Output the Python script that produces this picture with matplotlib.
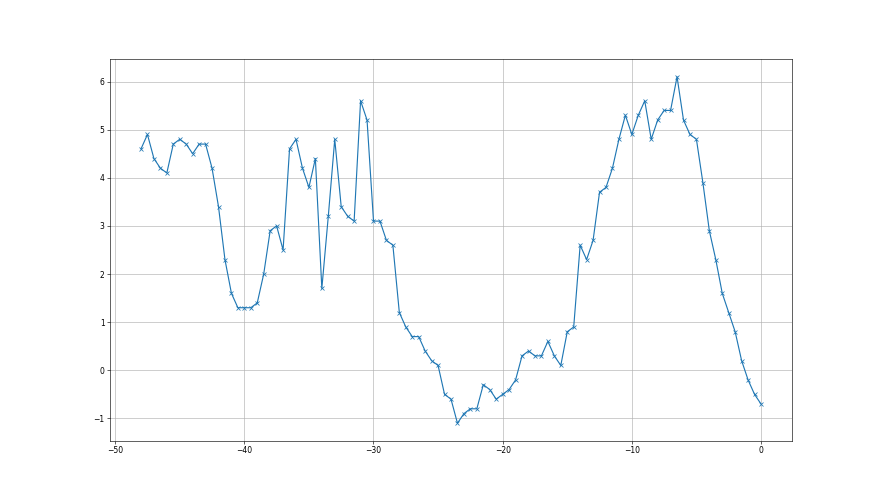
import numpy as np
import matplotlib
matplotlib.use('Agg')
import matplotlib.pyplot as plt

# valores, cada 0.5 desde -48 hasta 0
valores = [4.6, 4.9, 4.4, 4.2, 4.1, 4.7, 4.8, 4.7, 4.5, 4.7,
           4.7, 4.2, 3.4, 2.3, 1.6, 1.3, 1.3, 1.3, 1.4, 2.0,
           2.9, 3.0, 2.5, 4.6, 4.8, 4.2, 3.8, 4.4, 1.7, 3.2,
           4.8, 3.4, 3.2, 3.1, 5.6, 5.2, 3.1, 3.1, 2.7, 2.6,
           1.2, 0.9, 0.7, 0.7, 0.4, 0.2, 0.1, -0.5, -0.6, -1.1,
           -0.9, -0.8, -0.8, -0.3, -0.4, -0.6, -0.5, -0.4, -0.2, 0.3,
           0.4, 0.3, 0.3, 0.6, 0.3, 0.1, 0.8, 0.9, 2.6, 2.3,
           2.7, 3.7, 3.8, 4.2, 4.8, 5.3, 4.9, 5.3, 5.6, 4.8,
           5.2, 5.4, 5.4, 6.1, 5.2, 4.9, 4.8, 3.9, 2.9, 2.3,
           1.6, 1.2, 0.8, 0.2, -0.2, -0.5, -0.7]
tiempo = np.linspace(-48, 0, len(valores))

fig = plt.figure(figsize=(16, 9), dpi=55)
plt.plot(tiempo, valores, marker='x', color='#1f77b4')
plt.grid(True)

plt.savefig('out.png', dpi=55)
